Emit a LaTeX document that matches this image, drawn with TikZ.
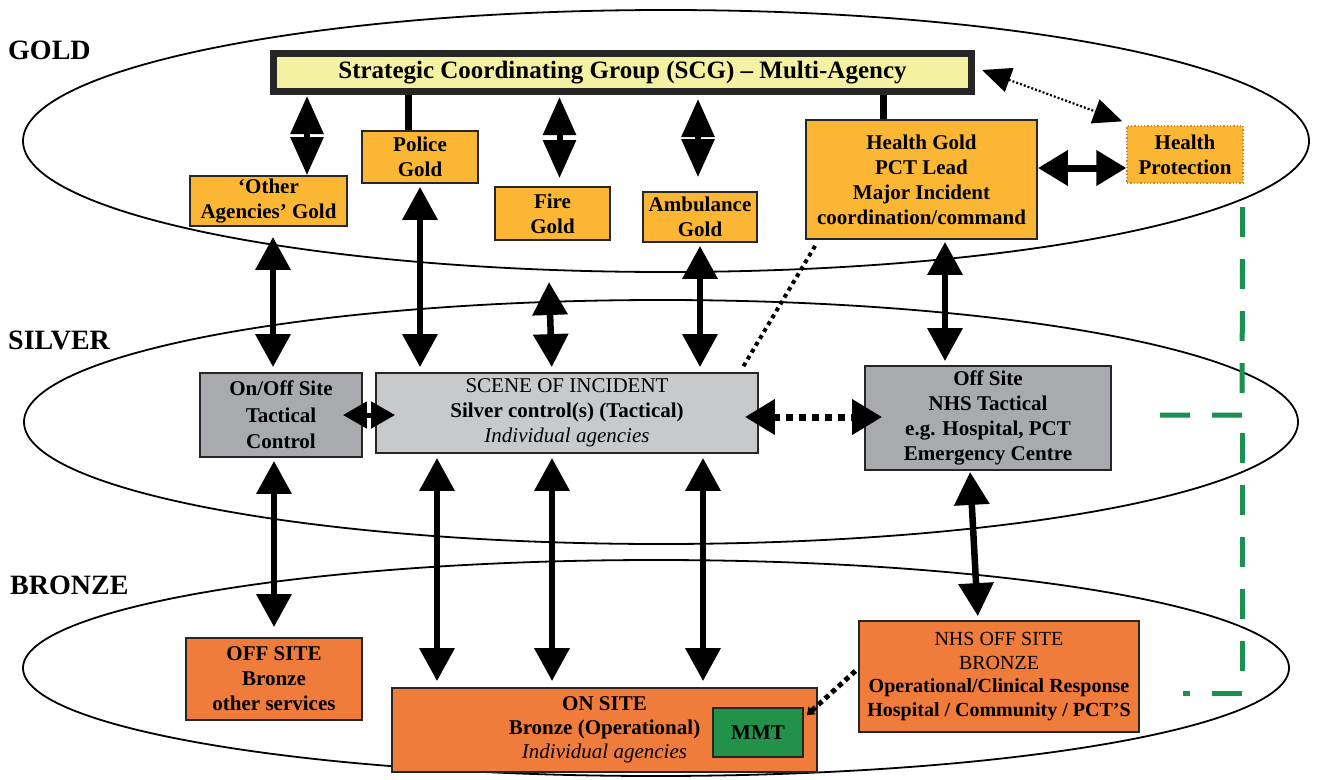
\documentclass[tikz,border=0pt]{standalone}
\usepackage{fontspec}
\setmainfont{Liberation Serif}
\usetikzlibrary{arrows.meta,calc}
\definecolor{goldc}{HTML}{FBB733}
\definecolor{scgc}{HTML}{F5F1A3}
\definecolor{greyc}{HTML}{A8AAAD}
\definecolor{scenec}{HTML}{C7C9CB}
\definecolor{bronzec}{HTML}{F07C3C}
\definecolor{mmtc}{HTML}{22914A}
\definecolor{greenl}{HTML}{1A9150}
\definecolor{hpborder}{HTML}{D8861F}
\begin{document}
\begin{tikzpicture}[x=1pt,y=-1pt,
  box/.style={draw=black!85, line width=1.8pt, inner sep=0pt, align=center,
    font=\bfseries\fontsize{21}{25}\selectfont},
  goldbox/.style={box, fill=goldc},
  greybox/.style={box, fill=greyc},
  bronzebox/.style={box, fill=bronzec},
  level/.style={font=\bfseries\fontsize{28}{30}\selectfont, anchor=west, inner sep=0pt},
  ring/.style={draw=black, line width=1.8pt},
  dbl/.style={line width=6.5pt, {Triangle[width=34pt,length=33pt]}-{Triangle[width=34pt,length=33pt]}},
  gdbl/.style={line width=6pt, {Triangle[width=32pt,length=38pt]}-{Triangle[width=32pt,length=38pt]}},
  smalldbl/.style={line width=5pt, {Triangle[width=26pt,length=24pt]}-{Triangle[width=26pt,length=24pt]}},
  link/.style={line width=7pt},
  thindbl/.style={line width=2.2pt, dash pattern=on 2pt off 2pt, {Triangle[width=25pt,length=29pt]}-{Triangle[width=25pt,length=29pt]}},
  dotdbl/.style={line width=7pt, dash pattern=on 7pt off 6pt, {Triangle[width=34pt,length=30pt]}-{Triangle[width=34pt,length=30pt]}},
  dotline/.style={line width=4pt, dash pattern=on 4pt off 4pt},
  mmtline/.style={line width=5pt, dash pattern=on 5pt off 4pt, {Triangle[width=10pt,length=7pt]}-},
  greendash/.style={draw=greenl, line width=5pt, dash pattern=on 30pt off 22pt}
]
\useasboundingbox (0,0) rectangle (1319,779);

% level ellipses
\draw[ring] (666,141) ellipse [x radius=643pt, y radius=131pt];
\draw[ring] (661,422) ellipse [x radius=637pt, y radius=122pt];
\draw[ring] (656,668) ellipse [x radius=633pt, y radius=108pt];

% level labels
\node[level] (goldlbl) at (8,50) {GOLD};
\node[level] (silverlbl) at (8,340) {SILVER};
\node[level] (bronzelbl) at (10,585) {BRONZE};

% GOLD level
\node[box, fill=scgc, line width=7pt, minimum width=698pt, minimum height=38pt,
  font=\bfseries\fontsize{25}{28}\selectfont] (scg) at (622.5,72.5)
  {Strategic Coordinating Group (SCG) – Multi-Agency};
\node[goldbox, minimum width=157pt, minimum height=50pt] (other) at (268.5,201) {‘Other\\Agencies’ Gold};
\node[goldbox, minimum width=116pt, minimum height=52pt] (police) at (420,157) {Police\\Gold};
\node[goldbox, minimum width=115pt, minimum height=53pt] (fire) at (552.5,213.5) {Fire\\Gold};
\node[goldbox, minimum width=114pt, minimum height=50pt] (amb) at (700,217) {Ambulance\\Gold};
\node[goldbox, minimum width=231pt, minimum height=119pt] (hg) at (921.5,179.5)
  {Health Gold\\PCT Lead\\Major Incident\\coordination/command};
\node[goldbox, draw=hpborder, line width=1.3pt, dotted, minimum width=116pt, minimum height=57pt] (hp) at (1185,154.5)
  {Health\\Protection};

% SILVER level
\node[greybox, font=\bfseries\fontsize{21}{26.5}\selectfont, minimum width=162pt, minimum height=84pt] (onoff) at (281,415)
  {On/Off Site\\Tactical\\Control};
\node[box, fill=scenec, font=\fontsize{21}{25}\selectfont, minimum width=382pt, minimum height=80pt] (scene) at (567,413)
  {SCENE OF INCIDENT\\\textbf{Silver control(s) (Tactical)}\\\textit{Individual agencies}};
\node[greybox, minimum width=246pt, minimum height=104pt] (offsite) at (988,418)
  {Off Site\\NHS Tactical\\e.g. Hospital, PCT\\Emergency Centre};

% BRONZE level
\node[bronzebox, minimum width=176pt, minimum height=82pt] (offbr) at (274,679)
  {OFF SITE\\Bronze\\other services};
\node[box, fill=bronzec, font=\fontsize{21}{24}\selectfont, minimum width=425pt, minimum height=84pt] (onsite) at (604.5,730)
  {\textbf{ON SITE}\\\textbf{Bronze (Operational)}\\\textit{Individual agencies}};
\node[box, fill=mmtc, minimum width=90pt, minimum height=49pt] (mmt) at (758,732.5) {MMT};
\node[bronzebox, font=\fontsize{20}{23.5}\selectfont, minimum width=280pt, minimum height=111pt] (nhsb) at (999,676.5)
  {NHS OFF SITE\\BRONZE\\\textbf{Operational/Clinical Response}\\\textbf{Hospital / Community / PCT’S}};

% SCG links
\coordinate (o1) at ($(other.north)+(38.5,0)$);
\draw[gdbl, shorten >=1pt] (o1) -- (o1 |- scg.south);
\coordinate (p1) at ($(police.north)+(-12,0)$);
\draw[link] (p1) -- (p1 |- scg.south);
\coordinate (f1) at ($(fire.north)+(7,-8)$);
\draw[gdbl, shorten >=2pt] (f1) -- (f1 |- scg.south);
\coordinate (a1) at ($(amb.north)+(-2,-14)$);
\draw[gdbl, shorten >=4pt] (a1) -- (a1 |- scg.south);
\coordinate (h1) at ($(hg.north)+(-38.5,0)$);
\draw[link] (h1) -- (h1 |- scg.south);
\draw[thindbl] ($(scg.east)+(7,-2.5)$) -- ($(hp.north west)+(-4,-4)$);
\coordinate (hp1) at ($(hp.west)+(0,13.5)$);
\draw[line width=7pt, {Triangle[width=34pt,length=30pt]}-{Triangle[width=34pt,length=30pt]}] (hg.east |- hp1) -- (hp1);

% GOLD to SILVER
\coordinate (o2) at ($(other.south)+(4.5,10)$);
\draw[dbl, shorten >=5pt] (o2) -- (o2 |- onoff.north);
\draw[dbl, shorten <=3pt, shorten >=5pt] (police.south) -- (police.south |- scene.north);
\coordinate (f2) at (549,282);
\draw[dbl, shorten >=5pt] (f2) -- ($(scene.north)+(-15,0)$);
\draw[dbl, shorten <=3pt, shorten >=5pt] (amb.south) -- (amb.south |- scene.north);
\coordinate (h2) at ($(hg.south)+(23.5,0)$);
\draw[dbl, shorten <=2pt, shorten >=4pt] (h2) -- (h2 |- offsite.north);
\draw[dotline] ($(hg.south west)+(10,6)$) -- ($(scene.north east)+(-16,-5)$);

% SILVER level links
\draw[smalldbl] ($(onoff.east)+(-20,0)$) -- ($(scene.west)+(20,2)$);
\draw[dotdbl] ($(scene.east)+(-14,4)$) -- ($(offsite.west)+(18,-1)$);

% SILVER to BRONZE
\coordinate (b1) at ($(onoff.south)+(-7,3)$);
\draw[dbl, shorten >=10pt] (b1) -- (b1 |- offbr.north);
\coordinate (s1) at ($(scene.south)+(-130,4)$);
\draw[dbl, shorten >=6pt] (s1) -- (s1 |- onsite.north);
\coordinate (s2) at ($(scene.south)+(-15,4)$);
\draw[dbl, shorten >=6pt] (s2) -- (s2 |- onsite.north);
\coordinate (s3) at ($(scene.south)+(136,4)$);
\draw[dbl, shorten >=6pt] (s3) -- (s3 |- onsite.north);
\draw[dbl, shorten <=1pt, shorten >=4pt] ($(offsite.south)+(-18,0)$) -- ($(nhsb.north)+(-21,0)$);
\draw[mmtline] ($(mmt.north east)+(3,8)$) -- ($(nhsb.west)+(0,-8)$);

% green dashed link from Health Protection
\coordinate (g0) at ($(hp.south east)+(-1,2)$);
\coordinate (gc) at (1242,415);
\coordinate (gs) at (1160,415);
\coordinate (gb) at (1242,693);
\coordinate (ge) at (1183,693);
\draw[greendash] (gs) -- (gc) -- (g0);
\draw[greendash, dash phase=23pt] (ge) -- (gb) -- (gc);
\end{tikzpicture}
\end{document}
